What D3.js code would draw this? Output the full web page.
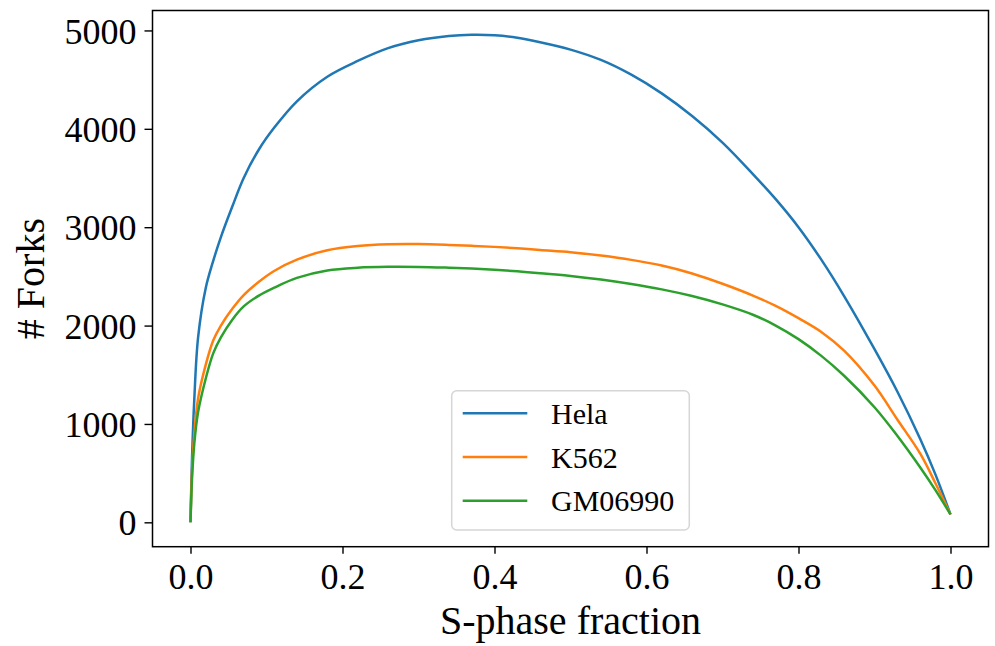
<!DOCTYPE html>
<html lang="en">
<head>
    <meta charset="UTF-8">
    <title>Forks vs S-phase fraction</title>
    <script src="https://d3js.org/d3.v7.min.js"></script>
    <style>
        body { margin: 0; background: #fff; }
        svg text { font-family: "Liberation Serif", "Times New Roman", serif; fill: #000; }
    </style>
</head>
<body>
    <svg id="chart" width="995" height="646"></svg>

    <script>
        // S-phase fraction grid and fork counts
        const sFraction = [0, 0.002, 0.005, 0.01, 0.02, 0.03, 0.04, 0.055, 0.07, 0.09, 0.11, 0.14, 0.18, 0.22,
            0.26, 0.30, 0.34, 0.37, 0.40, 0.43, 0.46, 0.5, 0.54, 0.58, 0.62, 0.66, 0.7, 0.74, 0.77, 0.8,
            0.83, 0.86, 0.9, 0.93, 0.96, 0.98, 1.0];
        const hela = [0, 650, 1250, 1880, 2380, 2660, 2900, 3210, 3500, 3790, 4010, 4280, 4530, 4690,
            4820, 4900, 4943, 4955, 4950, 4925, 4880, 4805, 4700, 4550, 4360, 4130, 3860, 3540, 3285, 3000,
            2670, 2300, 1760, 1330, 850, 490, 80];
        const k562 = [0, 520, 900, 1260, 1600, 1850, 2000, 2170, 2310, 2445, 2555, 2670, 2765, 2808,
            2826, 2828, 2820, 2811, 2800, 2786, 2768, 2746, 2712, 2668, 2610, 2530, 2425, 2305, 2200, 2075,
            1935, 1745, 1390, 1045, 700, 400, 80];
        const gm06990 = [0, 440, 800, 1120, 1460, 1720, 1880, 2060, 2195, 2305, 2385, 2485, 2560, 2588,
            2597, 2596, 2588, 2580, 2568, 2552, 2532, 2505, 2468, 2422, 2368, 2300, 2215, 2110, 2000, 1862,
            1692, 1490, 1170, 880, 560, 330, 80];

        const seriesNames = ["Hela", "K562", "GM06990"];
        const seriesValues = [hela, k562, gm06990];
        const seriesColors = ["#1f77b4", "#ff7f0e", "#2ca02c"];

        const xTicks = [0, 0.2, 0.4, 0.6, 0.8, 1.0];
        const yTicks = [0, 1000, 2000, 3000, 4000, 5000];

        const svg = d3.select("#chart");
        const margin = { left: 152.5, right: 995 - 988.5, top: 10.5, bottom: 646 - 546.7 };
        const plotW = 995 - margin.left - margin.right;
        const plotH = 646 - margin.top - margin.bottom;

        // matplotlib-style 5% padding on both axes
        const x = d3.scaleLinear().domain([-0.05, 1.05]).range([margin.left, margin.left + plotW]);
        const yMax = d3.max(seriesValues.flat());
        const yMin = 0;
        const pad = (yMax - yMin) * 0.05;
        const y = d3.scaleLinear().domain([yMin - pad, yMax + pad]).range([margin.top + plotH, margin.top]);

        const line = d3.line()
            .x(d => x(d[0]))
            .y(d => y(d[1]))
            .curve(d3.curveCatmullRom.alpha(0.5));

        const plot = svg.append("g");
        seriesValues.forEach((vals, i) => {
            plot.append("path")
                .datum(sFraction.map((s, j) => [s, vals[j]]))
                .attr("fill", "none")
                .attr("stroke", seriesColors[i])
                .attr("stroke-width", 2.5)
                .attr("stroke-linejoin", "round")
                .attr("d", line);
        });

        // axes
        const xAxis = svg.append("g")
            .attr("transform", `translate(0,${margin.top + plotH})`)
            .call(d3.axisBottom(x).tickValues(xTicks).tickFormat(d3.format(".1f")).tickSize(7).tickPadding(6));
        const yAxis = svg.append("g")
            .attr("transform", `translate(${margin.left},0)`)
            .call(d3.axisLeft(y).tickValues(yTicks).tickFormat(d3.format("d")).tickSize(8).tickPadding(8));

        [xAxis, yAxis].forEach(ax => {
            ax.select(".domain").remove();
            ax.selectAll(".tick line").attr("stroke", "#000").attr("stroke-width", 1.4);
            ax.selectAll(".tick text").style("font-size", "36px").attr("fill", "#000");
        });
        xAxis.selectAll(".tick text").attr("dy", null).attr("y", 42.6);
        yAxis.selectAll(".tick text").attr("dy", "0.35em");

        // frame
        svg.append("rect")
            .attr("x", margin.left).attr("y", margin.top)
            .attr("width", plotW).attr("height", plotH)
            .attr("fill", "none").attr("stroke", "#000").attr("stroke-width", 1.5);

        // axis labels
        svg.append("text")
            .attr("x", margin.left + plotW / 2).attr("y", 634)
            .attr("text-anchor", "middle")
            .style("font-size", "40px")
            .text("S-phase fraction");
        svg.append("text")
            .attr("transform", `translate(44,${margin.top + plotH / 2}) rotate(-90)`)
            .attr("text-anchor", "middle")
            .style("font-size", "40px")
            .text("# Forks");

        // legend
        const legend = svg.append("g").attr("transform", "translate(451.7,390.7)");
        legend.append("rect")
            .attr("width", 237.6).attr("height", 139.3)
            .attr("rx", 5).attr("ry", 5)
            .attr("fill", "#fff").attr("fill-opacity", 0.8)
            .attr("stroke", "#d6d6d6").attr("stroke-width", 1.5);
        seriesNames.forEach((name, i) => {
            const cy = 22.6 + i * 43.7;
            legend.append("line")
                .attr("x1", 11).attr("x2", 75.6)
                .attr("y1", cy).attr("y2", cy)
                .attr("stroke", seriesColors[i]).attr("stroke-width", 2.5);
            legend.append("text")
                .attr("x", 99.3).attr("y", cy + 10.8)
                .style("font-size", "30px")
                .text(name);
        });
    </script>
</body>
</html>
